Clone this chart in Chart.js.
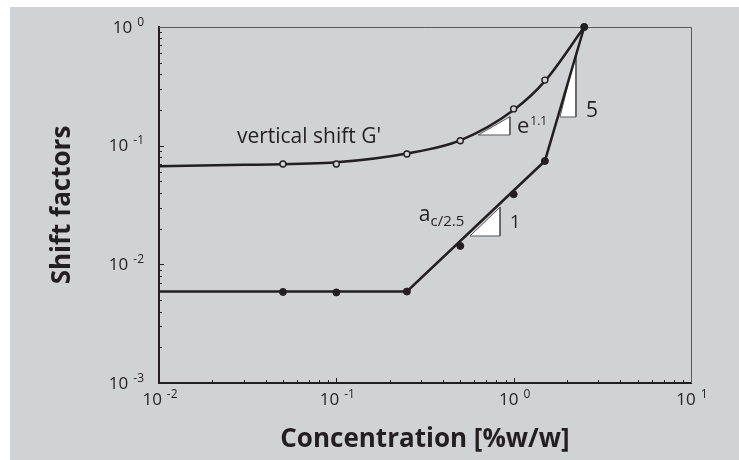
<!DOCTYPE html>
<html>
<head>
<meta charset="utf-8">
<script src="https://cdn.jsdelivr.net/npm/chart.js@4.4.1/dist/chart.umd.min.js"></script>
<style>
html, body { margin: 0; padding: 0; background: #fff; }
canvas { display: block; }
</style>
</head>
<body>
<canvas id="chart" width="739" height="460"></canvas>
<script>
// measured points
const concentration = [0.05, 0.1, 0.25, 0.5, 1, 1.5, 2.5];
const verticalShift = [0.070, 0.070, 0.085, 0.110, 0.204, 0.357, 1.0];
const horizontalShift = [0.00585, 0.0058, 0.0059, 0.0143, 0.039, 0.0743, 1.0];

// fitted curves
const verticalFitX = [0.01, 0.03, 0.1, 0.25, 0.5, 1, 1.5, 2.5];
const verticalFitY = [0.067, 0.069, 0.0725, 0.086, 0.111, 0.2, 0.35, 1.0];
const horizontalFitX = [0.01, 0.25, 1.5, 2.5];
const horizontalFitY = [0.0059, 0.0059, 0.0743, 1.0];

// slope triangles, corners in data units
const triangleE = [[0.632, 0.123], [0.953, 0.1755], [0.953, 0.123]];
const triangle5 = [[1.825, 0.1744], [2.246, 0.604], [2.246, 0.1744]];
const triangle1 = [[0.567, 0.01733], [0.838, 0.0303], [0.838, 0.01733]];

const xTicks = [0.01, 0.1, 1, 10];
const yTicks = [0.001, 0.01, 0.1, 1];

const ink = '#231f20';
const frameGray = '#58595b';
const paper = '#d1d2d4';
const fontFamily = '"Open Sans", "Noto Sans", sans-serif';

function toPoints(xs, ys) {
    return xs.map((x, i) => ({x: x, y: ys[i]}));
}

function closed(corners) {
    return corners.concat([corners[0]]).map(c => ({x: c[0], y: c[1]}));
}

function triangleSet(corners) {
    return {
        data: closed(corners),
        showLine: true,
        fill: 'shape',
        backgroundColor: '#ffffff',
        borderColor: frameGray,
        borderWidth: 1,
        pointRadius: 0,
        tension: 0,
        order: 5
    };
}

function powerLabel(ctx, x, baseline, exp, align) {
    ctx.font = '17px ' + fontFamily;
    const wb = ctx.measureText('10').width;
    ctx.font = '12px ' + fontFamily;
    const we = ctx.measureText(exp).width;
    const gap = 5;
    const total = wb + gap + we;
    const left = align === 'center' ? x - total / 2 : x - total;
    ctx.textAlign = 'left';
    ctx.textBaseline = 'alphabetic';
    ctx.font = '17px ' + fontFamily;
    ctx.fillText('10', left, baseline);
    ctx.font = '12px ' + fontFamily;
    ctx.fillText(exp, left + wb + gap, baseline - 7);
}

function expOf(v) {
    return String(Math.round(Math.log10(v)));
}

const figurePlugin = {
    id: 'figure',
    beforeDraw(chart) {
        const ctx = chart.ctx;
        ctx.save();
        ctx.fillStyle = paper;
        ctx.fillRect(10, 7, chart.width - 10, chart.height - 7);
        ctx.restore();
    },
    beforeDatasetsDraw(chart) {
        const {ctx, chartArea: a, scales} = chart;
        ctx.save();
        ctx.strokeStyle = frameGray;
        ctx.lineWidth = 1;
        ctx.beginPath();
        ctx.moveTo(a.left, a.top + 0.5);
        ctx.lineTo(a.right + 0.5, a.top + 0.5);
        ctx.lineTo(a.right + 0.5, a.bottom);
        ctx.stroke();

        // inward ticks
        ctx.strokeStyle = ink;
        ctx.lineWidth = 1;
        ctx.beginPath();
        for (let e = -2; e <= 0; e++) {
            for (let m = 1; m <= 9; m++) {
                const x = Math.round(scales.x.getPixelForValue(m * Math.pow(10, e))) + 0.5;
                const len = m === 1 ? 5 : 3;
                ctx.moveTo(x, a.bottom);
                ctx.lineTo(x, a.bottom - len);
            }
        }
        for (let e = -3; e <= -1; e++) {
            for (let m = 1; m <= 9; m++) {
                const y = Math.round(scales.y.getPixelForValue(m * Math.pow(10, e))) + 0.5;
                const len = m === 1 ? 5 : 3;
                ctx.moveTo(a.left, y);
                ctx.lineTo(a.left + len, y);
            }
        }
        ctx.stroke();
        ctx.restore();
    },
    afterDraw(chart) {
        const {ctx, chartArea: a, scales} = chart;
        const px = v => scales.x.getPixelForValue(v);
        const py = v => scales.y.getPixelForValue(v);
        ctx.save();
        ctx.fillStyle = ink;

        xTicks.forEach(v => powerLabel(ctx, px(v) + 1, a.bottom + 22, expOf(v), 'center'));
        yTicks.forEach(v => powerLabel(ctx, a.left - 15, py(v) + 5.5, expOf(v), 'right'));

        ctx.textAlign = 'left';
        ctx.textBaseline = 'alphabetic';

        ctx.font = '21px ' + fontFamily;
        ctx.fillText("vertical shift G'", px(0.0275), py(0.1047));

        ctx.font = '22px ' + fontFamily;
        const ex = px(1.044), ey = py(0.128);
        ctx.fillText('e', ex, ey);
        const ew = ctx.measureText('e').width;
        ctx.font = '12px ' + fontFamily;
        ctx.fillText('1.1', ex + ew + 1, ey - 8);

        ctx.font = '21px ' + fontFamily;
        ctx.fillText('5', px(2.56), py(0.1744));

        ctx.font = '18px ' + fontFamily;
        ctx.fillText('1', px(0.953), py(0.0202));

        ctx.font = '21px ' + fontFamily;
        const ax = px(0.292), ay = py(0.0232);
        ctx.fillText('a', ax, ay);
        const aw = ctx.measureText('a').width;
        ctx.font = '15px ' + fontFamily;
        ctx.fillText('c/2.5', ax + aw, ay + 5);

        ctx.restore();
    }
};

const config = {
    type: 'scatter',
    data: {
        datasets: [
            {
                label: 'horizontal shift markers',
                data: toPoints(concentration, horizontalShift),
                pointRadius: 3.5,
                pointBorderWidth: 1,
                pointBackgroundColor: ink,
                pointBorderColor: ink,
                showLine: false,
                clip: 8,
                order: 0
            },
            {
                label: 'vertical shift markers',
                data: toPoints(concentration, verticalShift),
                pointRadius: 3,
                pointBorderWidth: 1.4,
                pointBackgroundColor: paper,
                pointBorderColor: ink,
                showLine: false,
                clip: 8,
                order: 0.5
            },
            {
                label: 'vertical fit',
                data: toPoints(verticalFitX, verticalFitY),
                showLine: true,
                borderColor: ink,
                borderWidth: 2.5,
                pointRadius: 0,
                cubicInterpolationMode: 'monotone',
                clip: 8,
                order: 1
            },
            {
                label: 'horizontal fit',
                data: toPoints(horizontalFitX, horizontalFitY),
                showLine: true,
                borderColor: ink,
                borderWidth: 2.5,
                pointRadius: 0,
                tension: 0,
                clip: 8,
                order: 1
            },
            triangleSet(triangleE),
            triangleSet(triangle5),
            triangleSet(triangle1)
        ]
    },
    options: {
        responsive: false,
        animation: false,
        layout: {
            padding: {left: 10, top: 27, right: 48, bottom: 0}
        },
        plugins: {
            legend: {display: false},
            tooltip: {enabled: false}
        },
        scales: {
            x: {
                type: 'logarithmic',
                min: 0.01,
                max: 10,
                grid: {display: false, drawTicks: false},
                border: {display: true, color: ink, width: 2},
                ticks: {display: false},
                title: {
                    display: true,
                    text: 'Concentration [%w/w]',
                    color: ink,
                    font: {family: fontFamily, size: 26, weight: 'bold'},
                    padding: {top: 41.4, bottom: 4.4}
                }
            },
            y: {
                type: 'logarithmic',
                min: 0.001,
                max: 1,
                grid: {display: false, drawTicks: false},
                border: {display: true, color: ink, width: 2},
                ticks: {display: false},
                title: {
                    display: true,
                    text: 'Shift factors',
                    color: ink,
                    font: {family: fontFamily, size: 26, weight: 'bold'},
                    padding: {top: 36.9, bottom: 80.9}
                }
            }
        }
    },
    plugins: [figurePlugin]
};

const chart = new Chart(document.getElementById('chart').getContext('2d'), config);
</script>
</body>
</html>
